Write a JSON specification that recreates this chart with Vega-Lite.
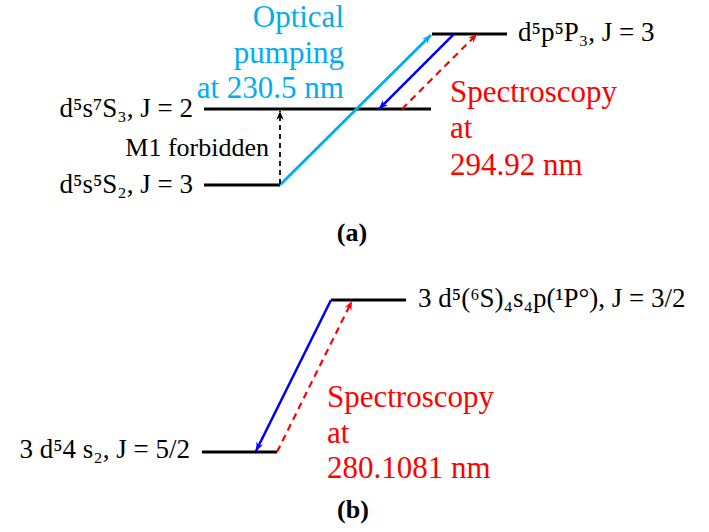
{
  "$schema": "https://vega.github.io/schema/vega-lite/v6.json",
  "width": 709,
  "height": 532,
  "autosize": "none",
  "padding": 0,
  "background": "white",
  "config": {"view": {"stroke": null}, "legend": {"disable": true}},
  "datasets": {
    "segments": [
      {"x": 204, "y": 185, "x2": 280, "y2": 185, "style": "level"},
      {"x": 204, "y": 109, "x2": 431, "y2": 109, "style": "level"},
      {"x": 432, "y": 34, "x2": 507, "y2": 34, "style": "level"},
      {"x": 202, "y": 452, "x2": 277, "y2": 452, "style": "level"},
      {"x": 331, "y": 300, "x2": 406, "y2": 300, "style": "level"},
      {"x": 280, "y": 185, "x2": 431, "y2": 35, "style": "pump"},
      {"x": 454, "y": 34, "x2": 379, "y2": 109, "style": "decay"},
      {"x": 402, "y": 109, "x2": 477, "y2": 34, "style": "probe"},
      {"x": 280, "y": 184, "x2": 280, "y2": 111, "style": "forbidden"},
      {"x": 331, "y": 300, "x2": 256, "y2": 451, "style": "decay"},
      {"x": 277, "y": 452, "x2": 352, "y2": 301, "style": "probe"}
    ],
    "labels": [
      {"text": "d⁵s⁷S₃, J = 2", "x": 193, "y": 117, "style": "state", "align": "right"},
      {"text": "d⁵s⁵S₂, J = 3", "x": 193, "y": 193, "style": "state", "align": "right"},
      {"text": "M1 forbidden", "x": 269, "y": 156, "style": "note", "align": "right"},
      {"text": "Optical", "x": 344, "y": 27, "style": "pumptext", "align": "right"},
      {"text": "pumping", "x": 344, "y": 63, "style": "pumptext", "align": "right"},
      {"text": "at 230.5 nm", "x": 344, "y": 98, "style": "pumptext", "align": "right"},
      {"text": "d⁵p⁵P₃, J = 3", "x": 518, "y": 41, "style": "state", "align": "left"},
      {"text": "Spectroscopy", "x": 450, "y": 102, "style": "probetext", "align": "left"},
      {"text": "at", "x": 450, "y": 138, "style": "probetext", "align": "left"},
      {"text": "294.92 nm", "x": 450, "y": 175, "style": "probetext", "align": "left"},
      {"text": "3 d⁵4 s₂, J = 5/2", "x": 190, "y": 458, "style": "state", "align": "right"},
      {"text": "3 d⁵(⁶S)₄s₄p(¹P°), J = 3/2", "x": 418, "y": 307, "style": "state", "align": "left"},
      {"text": "Spectroscopy", "x": 327, "y": 407, "style": "probetext", "align": "left"},
      {"text": "at", "x": 327, "y": 443, "style": "probetext", "align": "left"},
      {"text": "280.1081 nm", "x": 327, "y": 478, "style": "probetext", "align": "left"},
      {"text": "(a)", "x": 352, "y": 241, "style": "caption", "align": "center"},
      {"text": "(b)", "x": 353, "y": 518, "style": "caption", "align": "center"}
    ]
  },
  "layer": [
    {
      "data": {"name": "segments"},
      "mark": {"type": "rule", "strokeCap": "butt"},
      "encoding": {
        "x": {"field": "x", "type": "quantitative", "scale": {"domain": [0, 709], "nice": false, "zero": false}, "axis": null},
        "y": {"field": "y", "type": "quantitative", "scale": {"domain": [0, 532], "nice": false, "zero": false, "reverse": true}, "axis": null},
        "x2": {"field": "x2"},
        "y2": {"field": "y2"},
        "color": {"field": "style", "type": "nominal", "legend": null,
          "scale": {"domain": ["level", "pump", "decay", "probe", "forbidden"], "range": ["#000000", "#00AEEF", "#0000FF", "#FF0000", "#000000"]}},
        "strokeWidth": {"field": "style", "type": "nominal", "legend": null,
          "scale": {"domain": ["level", "pump", "decay", "probe", "forbidden"], "range": [3.2, 1.8, 1.8, 1.8, 1.1]}},
        "strokeDash": {"field": "style", "type": "nominal", "legend": null,
          "scale": {"domain": ["level", "pump", "decay", "probe", "forbidden"], "range": [[1, 0], [1, 0], [1, 0], [7, 5], [5, 4]]}}
      }
    },
    {
      "data": {"name": "segments"},
      "transform": [
        {"filter": "datum.style != 'level'"},
        {"calculate": "atan2(datum.x2 - datum.x, datum.y - datum.y2) * 180 / PI", "as": "angle"}
      ],
      "mark": {"type": "point", "filled": true, "opacity": 1, "strokeWidth": 0, "shape": "M0,0 L-1,2.4 L0,1.6 L1,2.4 Z"},
      "encoding": {
        "x": {"field": "x2", "type": "quantitative"},
        "y": {"field": "y2", "type": "quantitative"},
        "angle": {"field": "angle", "type": "quantitative", "scale": null},
        "color": {"field": "style", "type": "nominal", "legend": null},
        "size": {"field": "style", "type": "nominal", "legend": null,
          "scale": {"domain": ["pump", "decay", "probe", "forbidden"], "range": [56, 56, 56, 25]}}
      }
    },
    {
      "data": {"name": "labels"},
      "transform": [{"filter": "datum.style == 'state' && datum.align == 'right'"}],
      "mark": {"type": "text", "align": "right", "baseline": "alphabetic", "font": "Liberation Serif", "fontSize": 27, "color": "#000000"},
      "encoding": {
        "x": {"field": "x", "type": "quantitative"},
        "y": {"field": "y", "type": "quantitative"},
        "text": {"field": "text"}
      }
    },
    {
      "data": {"name": "labels"},
      "transform": [{"filter": "datum.style == 'note'"}],
      "mark": {"type": "text", "align": "right", "baseline": "alphabetic", "font": "Liberation Serif", "fontSize": 26, "color": "#000000"},
      "encoding": {
        "x": {"field": "x", "type": "quantitative"},
        "y": {"field": "y", "type": "quantitative"},
        "text": {"field": "text"}
      }
    },
    {
      "data": {"name": "labels"},
      "transform": [{"filter": "datum.style == 'state' && datum.align == 'left'"}],
      "mark": {"type": "text", "align": "left", "baseline": "alphabetic", "font": "Liberation Serif", "fontSize": 27, "color": "#000000"},
      "encoding": {
        "x": {"field": "x", "type": "quantitative"},
        "y": {"field": "y", "type": "quantitative"},
        "text": {"field": "text"}
      }
    },
    {
      "data": {"name": "labels"},
      "transform": [{"filter": "datum.style == 'pumptext'"}],
      "mark": {"type": "text", "align": "right", "baseline": "alphabetic", "font": "Liberation Serif", "fontSize": 31, "color": "#00AEEF"},
      "encoding": {
        "x": {"field": "x", "type": "quantitative"},
        "y": {"field": "y", "type": "quantitative"},
        "text": {"field": "text"}
      }
    },
    {
      "data": {"name": "labels"},
      "transform": [{"filter": "datum.style == 'probetext'"}],
      "mark": {"type": "text", "align": "left", "baseline": "alphabetic", "font": "Liberation Serif", "fontSize": 31, "color": "#FF0000"},
      "encoding": {
        "x": {"field": "x", "type": "quantitative"},
        "y": {"field": "y", "type": "quantitative"},
        "text": {"field": "text"}
      }
    },
    {
      "data": {"name": "labels"},
      "transform": [{"filter": "datum.style == 'caption'"}],
      "mark": {"type": "text", "align": "center", "baseline": "alphabetic", "font": "Liberation Serif", "fontSize": 26, "fontWeight": "bold", "color": "#000000"},
      "encoding": {
        "x": {"field": "x", "type": "quantitative"},
        "y": {"field": "y", "type": "quantitative"},
        "text": {"field": "text"}
      }
    }
  ]
}
